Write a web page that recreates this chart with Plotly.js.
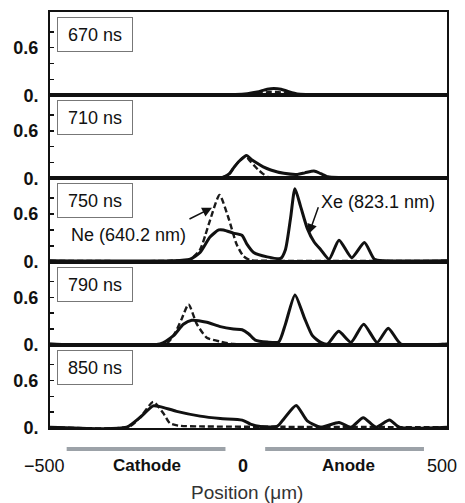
<!DOCTYPE html>
<html>
<head>
<meta charset="utf-8">
<script src="https://cdn.plot.ly/plotly-3.0.1.min.js"></script>
<style>html,body{margin:0;padding:0;background:#fff;}#chart{width:465px;height:503px;}</style>
</head>
<body>
<div id="chart"></div>
<script>
// ---------- data ----------
const panelTimes = ['670 ns', '710 ns', '750 ns', '790 ns', '850 ns'];

const xe670x = [-487, -100, -20, 10, 35, 60, 77, 95, 111, 136, 160, 513];
const xe670y = [0.01, 0.01, 0.01, 0.02, 0.04, 0.075, 0.085, 0.075, 0.05, 0.015, 0.01, 0.01];
const ne670x = [-487, 20, 45, 65, 80, 95, 115, 140, 513];
const ne670y = [0.01, 0.01, 0.025, 0.04, 0.04, 0.035, 0.02, 0.01, 0.01];

const xe710x = [-487, -80, -51, -35, -25, -10, 8, 20, 35, 50, 69, 102, 136, 155, 178, 195, 213, 240, 513];
const xe710y = [0.01, 0.01, 0.015, 0.06, 0.13, 0.22, 0.29, 0.24, 0.19, 0.145, 0.106, 0.064, 0.05, 0.07, 0.094, 0.06, 0.02, 0.01, 0.01];
const ne710x = [-487, -80, -51, -35, -25, -10, 6, 15, 26, 37, 48, 60, 80, 513];
const ne710y = [0.01, 0.01, 0.015, 0.06, 0.13, 0.22, 0.28, 0.23, 0.17, 0.11, 0.064, 0.02, 0.01, 0.01];

const xe750x = [-487, -180, -134, -109, -84, -62, -50, -25, -3, 9, 26, 60, 94, 106, 119, 130, 144, 161, 178, 195, 216, 241, 273, 305, 330, 355, 513];
const xe750y = [0.01, 0.01, 0.03, 0.115, 0.31, 0.40, 0.40, 0.36, 0.33, 0.22, 0.115, 0.06, 0.04, 0.15, 0.55, 0.92, 0.70, 0.42, 0.25, 0.15, 0.03, 0.27, 0.05, 0.24, 0.03, 0.01, 0.01];
const ne750x = [-487, -180, -134, -109, -96, -84, -60, -38, -17, 0, 17, 60, 513];
const ne750y = [0.01, 0.01, 0.03, 0.15, 0.33, 0.52, 0.84, 0.56, 0.22, 0.07, 0.02, 0.01, 0.01];

const xe790x = [-487, -210, -176, -151, -130, -92, -58, -25, -3, 13, 30, 60, 89, 106, 130, 153, 174, 195, 212, 240, 271, 303, 337, 365, 397, 513];
const xe790y = [0.01, 0.01, 0.115, 0.26, 0.31, 0.285, 0.23, 0.20, 0.19, 0.14, 0.06, 0.035, 0.035, 0.26, 0.63, 0.35, 0.115, 0.03, 0.01, 0.17, 0.03, 0.26, 0.03, 0.21, 0.01, 0.01];
const ne790x = [-487, -193, -172, -155, -138, -117, -92, -58, -25, 513];
const ne790y = [0.01, 0.02, 0.15, 0.33, 0.51, 0.26, 0.09, 0.04, 0.01, 0.01];

const xe850x = [-487, -294, -261, -227, -210, -168, -109, -58, -3, 18, 43, 85, 102, 133, 161, 195, 241, 271, 302, 334, 368, 393, 513];
const xe850y = [0.01, 0.01, 0.13, 0.28, 0.27, 0.21, 0.15, 0.12, 0.10, 0.05, 0.02, 0.02, 0.115, 0.285, 0.09, 0.01, 0.07, 0.01, 0.13, 0.01, 0.10, 0.01, 0.01];
const ne850x = [-487, -286, -256, -227, -202, -185, -164, -109, 100, 513];
const ne850y = [0.01, 0.02, 0.16, 0.33, 0.19, 0.06, 0.03, 0.02, 0.015, 0.01];

const xeSeries = [[xe670x, xe670y], [xe710x, xe710y], [xe750x, xe750y], [xe790x, xe790y], [xe850x, xe850y]];
const neSeries = [[ne670x, ne670y], [ne710x, ne710y], [ne750x, ne750y], [ne790x, ne790y], [ne850x, ne850y]];

const yTickVals = [0, 0.2, 0.4, 0.6, 0.8];
const yTickText = ['0.', '', '', '0.6', ''];
const xTickVals = [-500, 0, 500];
const xTickText = ['\u2212500', '0', '500'];

const electrodeNames = ['Cathode', 'Anode'];
const electrodeStart = [-445, 55];
const electrodeEnd = [-45, 455];
const electrodeLabelX = [-243, 266];

const neLabel = {text: 'Ne (640.2 nm)', x: -290, y: 0.33, arrowX: -79, arrowY: 0.68};
const xeLabel = {text: 'Xe (823.1 nm)', x: 338, y: 0.75, arrowX: 165, arrowY: 0.35};

// ---------- chart ----------
const FONT = 'Liberation Sans, Arial, Helvetica, sans-serif';
const xRange = [-487, 513];
const yRange = [0, 1.05];
const N = panelTimes.length;
// position on the shared x scale, as a fraction of the plot width (for labels outside the range)
function xFrac(v) { return (v - xRange[0]) / (xRange[1] - xRange[0]); }

const traces = [];
for (let i = 0; i < N; i++) {
  const s = i === 0 ? '' : String(i + 1);
  traces.push({
    x: neSeries[i][0], y: neSeries[i][1], xaxis: 'x' + s, yaxis: 'y' + s,
    type: 'scatter', mode: 'lines', name: 'Ne (640.2 nm)', showlegend: false,
    line: {color: '#1a1a1a', width: 2.4, dash: '6px,3px', shape: 'spline', smoothing: 0.6}
  });
  traces.push({
    x: xeSeries[i][0], y: xeSeries[i][1], xaxis: 'x' + s, yaxis: 'y' + s,
    type: 'scatter', mode: 'lines', name: 'Xe (823.1 nm)', showlegend: false,
    line: {color: '#111', width: 3, shape: 'spline', smoothing: 0.6}
  });
}

const layout = {
  width: 465, height: 503,
  margin: {l: 50, r: 18, t: 12, b: 75},
  paper_bgcolor: '#fff', plot_bgcolor: '#fff',
  font: {family: FONT, size: 18, color: '#111'},
  showlegend: false,
  annotations: [], shapes: []
};

for (let i = 0; i < N; i++) {
  const s = i === 0 ? '' : String(i + 1);
  const top = 1 - i / N, bot = 1 - (i + 1) / N;
  layout['xaxis' + s] = {
    domain: [0, 1], anchor: 'y' + s, range: xRange, showticklabels: false,
    ticks: '', showgrid: false, zeroline: false, showline: true, mirror: true,
    linecolor: '#111', linewidth: 2
  };
  layout['yaxis' + s] = {
    domain: [bot, top], anchor: 'x' + s, range: yRange,
    tickvals: yTickVals, ticktext: yTickText,
    ticks: 'inside', ticklen: 4, tickwidth: 1.5, tickcolor: '#111',
    ticklabelstandoff: 6,
    tickfont: {family: FONT, size: 18, color: '#111', weight: 'bold'},
    showgrid: false, zeroline: false, showline: true, mirror: true,
    linecolor: '#111', linewidth: 2
  };
  layout.annotations.push({
    text: panelTimes[i], xref: 'x' + s + ' domain', yref: 'y' + s + ' domain',
    x: 0.0176, y: 0.94, xanchor: 'left', yanchor: 'top', showarrow: false,
    font: {family: FONT, size: 18, color: '#111'},
    bordercolor: '#777', borderwidth: 1, borderpad: 6, bgcolor: '#fff',
    width: 62, height: 21
  });
}

// labels with arrows in the 750 ns panel
[neLabel, xeLabel].forEach(function (L) {
  layout.annotations.push({
    text: L.text, xref: 'x3', yref: 'y3', x: L.x, y: L.y, showarrow: false,
    font: {family: FONT, size: 18, color: '#111'}
  });
});
layout.annotations.push({
  text: '', xref: 'x3', yref: 'y3', x: neLabel.arrowX, y: neLabel.arrowY,
  showarrow: true, ax: -24, ay: 12, arrowhead: 2, arrowsize: 1.3, arrowwidth: 1.5, arrowcolor: '#111'
});
layout.annotations.push({
  text: '', xref: 'x3', yref: 'y3', x: xeLabel.arrowX, y: xeLabel.arrowY,
  showarrow: true, ax: 10, ay: -28, arrowhead: 2, arrowsize: 1.3, arrowwidth: 1.5, arrowcolor: '#111'
});

// bottom x tick labels
xTickVals.forEach(function (v, k) {
  layout.annotations.push({
    text: xTickText[k], xref: 'paper', yref: 'paper', x: xFrac(v), y: -0.0913,
    xanchor: 'center', yanchor: 'middle', showarrow: false,
    font: {family: FONT, size: 18, color: '#111', weight: k === 1 ? 'bold' : 'normal'}
  });
});

// electrodes
electrodeNames.forEach(function (name, k) {
  layout.shapes.push({
    type: 'line', xref: 'x5', yref: 'paper',
    x0: electrodeStart[k], x1: electrodeEnd[k], y0: -0.0505, y1: -0.0505,
    line: {color: '#9ca2a8', width: 4}
  });
  layout.annotations.push({
    text: name, xref: 'x5', yref: 'paper', x: electrodeLabelX[k], y: -0.0913,
    xanchor: 'center', yanchor: 'middle', showarrow: false,
    font: {family: FONT, size: 17, color: '#111', weight: 'bold'}
  });
});

// axis title
layout.annotations.push({
  text: 'Position (\u03bcm)', xref: 'paper', yref: 'paper', x: 0.497, y: -0.156,
  xanchor: 'center', yanchor: 'middle', showarrow: false,
  font: {family: FONT, size: 19, color: '#333'}
});

Plotly.newPlot('chart', traces, layout, {displayModeBar: false, staticPlot: true});
</script>
</body>
</html>
